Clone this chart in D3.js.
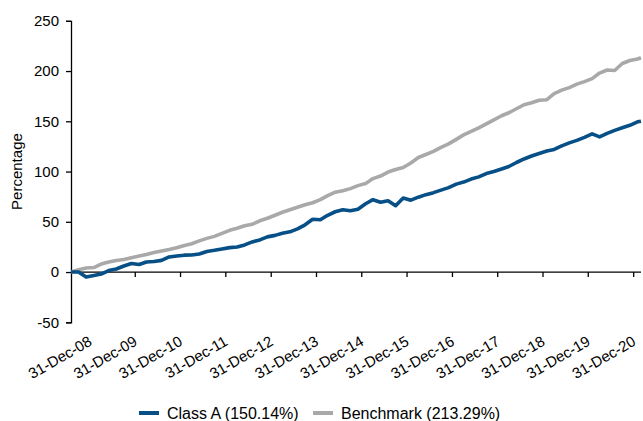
<!DOCTYPE html>
<html>
<head>
<meta charset="utf-8">
<script src="https://cdn.jsdelivr.net/npm/d3@7"></script>
<style>
  html, body { margin: 0; padding: 0; background: #fff; }
  text { font-family: "Liberation Sans", Arial, sans-serif; fill: #000; }
</style>
</head>
<body>
<svg id="chart" width="643" height="421"></svg>
<script>
// Month-end observation dates (year-month)
const months = [
  "2008-07","2008-09","2008-11","2009-01","2009-03","2009-05","2009-07","2009-09","2009-11",
  "2010-01","2010-03","2010-05","2010-07","2010-09","2010-11",
  "2011-01","2011-03","2011-05","2011-07","2011-09","2011-11",
  "2012-01","2012-03","2012-05","2012-07","2012-09","2012-11",
  "2013-01","2013-03","2013-05","2013-07","2013-09","2013-11",
  "2014-01","2014-03","2014-05","2014-07","2014-09","2014-11",
  "2015-01","2015-03","2015-05","2015-07","2015-09","2015-11",
  "2016-01","2016-03","2016-05","2016-07","2016-09","2016-11",
  "2017-01","2017-03","2017-05","2017-07","2017-09","2017-11",
  "2018-01","2018-03","2018-05","2018-07","2018-09","2018-11",
  "2019-01","2019-03","2019-05","2019-07","2019-09","2019-11",
  "2020-01","2020-03","2020-05","2020-07","2020-09","2020-11",
  "2021-01","2021-02"
];
const classA = [
  0, 0, -5, -3.5, -2, 1.5, 3, 6, 8.5,
  7.5, 10, 10.5, 11.6, 15, 16,
  16.8, 17, 18, 20.5, 21.6, 23,
  24.3, 25, 27, 30, 32, 35,
  36.5, 38.5, 40, 43, 47, 52.5,
  52, 56.5, 60, 62, 61, 62.5,
  68, 72, 69.5, 71, 66, 73.7,
  71.5, 74.5, 77, 79, 81.5, 84,
  87.5, 89.5, 92.5, 94.7, 98, 100,
  102.5, 105, 109, 112.5, 115.5, 118,
  120.5, 122, 125.5, 128.5, 131, 134,
  137.5, 134.5, 138, 141, 143.5, 146,
  149.5, 150.14
];
const benchmark = [
  0, 2.4, 4, 4.5, 8, 10, 11.5, 12.5, 14.2,
  16, 17.5, 19.5, 21, 22.5, 24.2,
  26.5, 28.2, 31, 33.5, 35.5, 38.5,
  41.5, 43.5, 46, 47.5, 51, 53.5,
  56.5, 59.5, 62, 64.5, 67, 69,
  72, 76, 79.5, 81, 83, 86,
  88, 93, 95.5, 99.5, 102, 104,
  108.5, 114, 117, 120, 124, 127.5,
  132, 136.5, 140, 143.5, 147.5, 151.5,
  155.5, 158.5, 162.5, 166.5, 168.5, 171,
  171.5, 177.5, 181, 183.5, 187, 189.5,
  192.5, 198, 201, 200.5, 207.5, 210.5,
  212, 213.29
];
const seriesNames = ["Class A (150.14%)", "Benchmark (213.29%)"];
const seriesColors = ["#064f87", "#a9a9a9"];
const yTicks = [-50, 0, 50, 100, 150, 200, 250];
const xTickLabels = ["31-Dec-08","31-Dec-09","31-Dec-10","31-Dec-11","31-Dec-12","31-Dec-13",
  "31-Dec-14","31-Dec-15","31-Dec-16","31-Dec-17","31-Dec-18","31-Dec-19","31-Dec-20"];

const parseYM = d3.timeParse("%Y-%m");
const monthEnd = s => d3.timeDay.offset(d3.timeMonth.offset(parseYM(s), 1), -1);
const parseLabel = d3.timeParse("%d-%b-%y");

const dates = months.map(monthEnd);
const svg = d3.select("#chart");

const x = d3.scaleTime()
  .domain([monthEnd("2008-07"), monthEnd("2021-02")])
  .range([71, 641]);
const y = d3.scaleLinear().domain([-50, 250]).range([322.3, 20.8]);

// Y axis
const yAxis = svg.append("g").attr("transform", "translate(71,0)")
  .call(d3.axisLeft(y).tickValues(yTicks).tickSize(5).tickPadding(7).tickFormat(d => String(d)));
yAxis.select(".domain").attr("stroke", "#000").attr("stroke-width", 1.3);
yAxis.selectAll(".tick line").attr("stroke", "#000").attr("stroke-width", 1.3);
yAxis.selectAll("text").attr("font-size", 15).attr("font-family", "Liberation Sans, Arial, sans-serif").attr("fill", "#000");

svg.append("text")
  .attr("transform", `translate(22,${(y(-50) + y(250)) / 2}) rotate(-90)`)
  .attr("text-anchor", "middle")
  .attr("font-size", 15)
  .text("Percentage");

// X axis along zero line
const tickDates = xTickLabels.map(parseLabel);
const xAxisG = svg.append("g").attr("transform", `translate(0,${y(0)})`);
xAxisG.append("line")
  .attr("x1", 71).attr("x2", 641).attr("y1", 0).attr("y2", 0)
  .attr("stroke", "#000").attr("stroke-width", 1.3);
xAxisG.selectAll("line.tick").data(tickDates.slice(1)).enter().append("line")
  .attr("class", "tick")
  .attr("x1", d => x(d)).attr("x2", d => x(d))
  .attr("y1", 0).attr("y2", 5)
  .attr("stroke", "#000").attr("stroke-width", 1.3);

// X labels at bottom of plot
svg.append("g").selectAll("text").data(tickDates).enter().append("text")
  .attr("transform", d => `translate(${x(d) + 3},${y(-50) + 22}) rotate(-30)`)
  .attr("text-anchor", "end")
  .attr("font-size", 15)
  .text((d, i) => xTickLabels[i]);

// Lines
const line = d3.line().x((d, i) => x(dates[i])).y(d => y(d));
[benchmark, classA].forEach((vals, k) => {
  const idx = k === 0 ? 1 : 0;
  svg.append("path")
    .datum(vals)
    .attr("fill", "none")
    .attr("stroke", seriesColors[idx])
    .attr("stroke-width", 3.6)
    .attr("stroke-linejoin", "round")
    .attr("d", line);
});

// Legend
const legend = svg.append("g").attr("transform", "translate(0,413)");
const legendX = [139, 313];
seriesNames.forEach((name, i) => {
  legend.append("line")
    .attr("x1", legendX[i]).attr("x2", legendX[i] + 20)
    .attr("y1", 0).attr("y2", 0)
    .attr("stroke", seriesColors[i]).attr("stroke-width", 4);
  legend.append("text")
    .attr("x", legendX[i] + 28).attr("y", 5.5)
    .attr("font-size", 16)
    .text(name);
});
</script>
</body>
</html>
